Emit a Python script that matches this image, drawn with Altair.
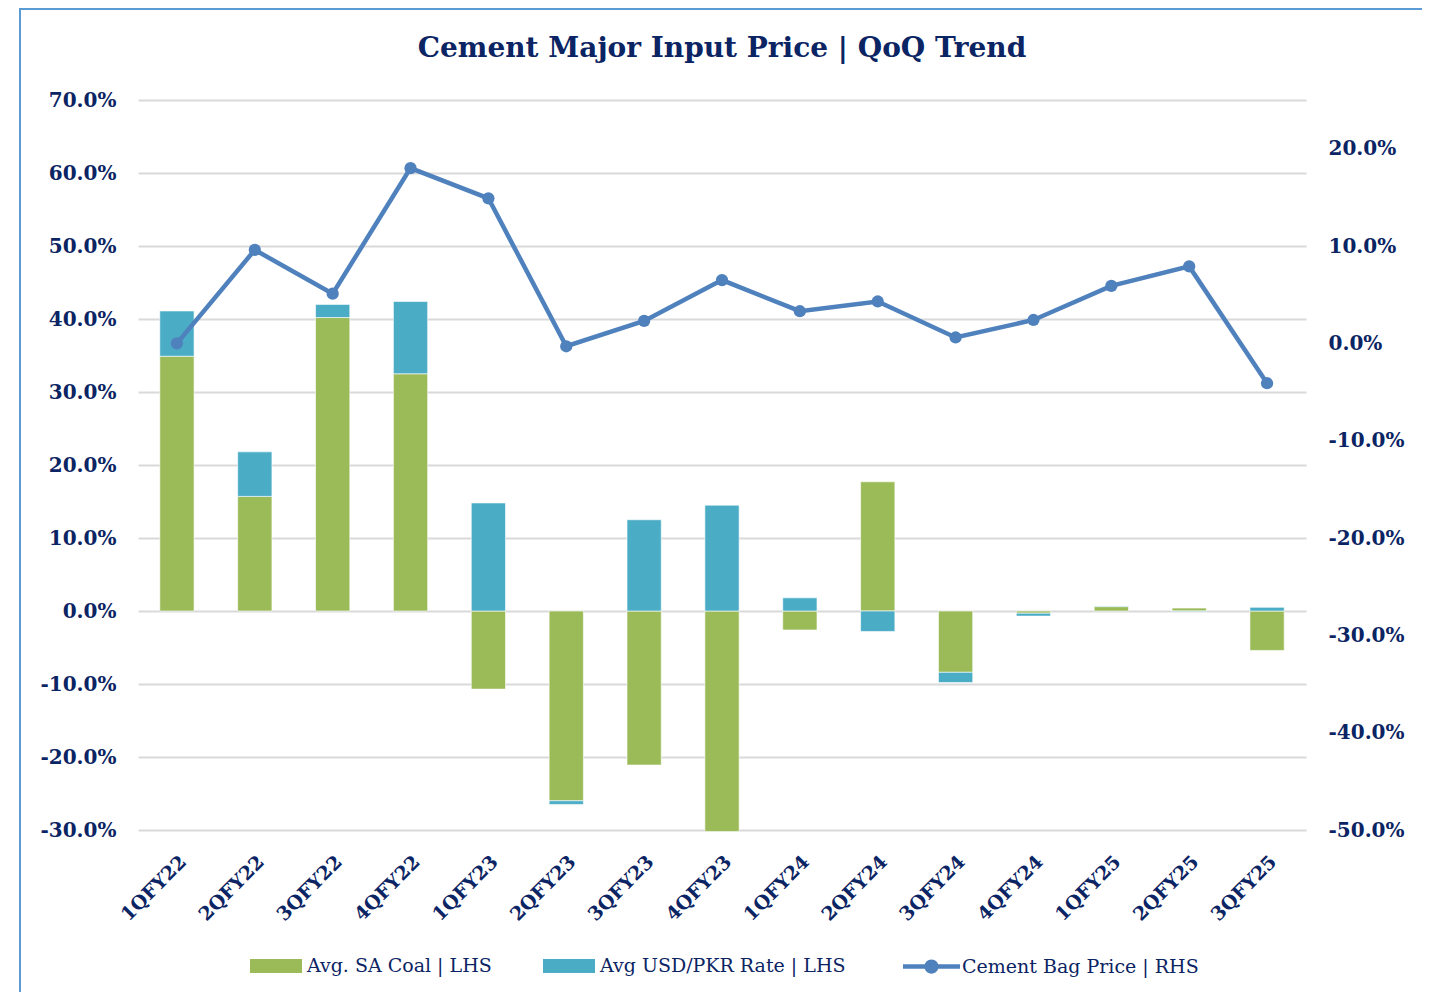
import altair as alt
import pandas as pd

quarters = ["1QFY22", "2QFY22", "3QFY22", "4QFY22", "1QFY23", "2QFY23", "3QFY23", "4QFY23",
            "1QFY24", "2QFY24", "3QFY24", "4QFY24", "1QFY25", "2QFY25", "3QFY25"]
coal = [34.9, 15.7, 40.2, 32.5, -10.7, -26.0, -21.1, -30.2, -2.6, 17.7, -8.4, -0.3, 0.6, 0.4, -5.4]
usd = [6.2, 6.1, 1.8, 9.9, 14.8, -0.5, 12.5, 14.5, 1.8, -2.8, -1.4, -0.4, 0.1, -0.1, 0.5]
cement = [0.0, 9.6, 5.1, 18.0, 14.9, -0.3, 2.3, 6.5, 3.3, 4.3, 0.6, 2.4, 5.9, 7.9, -4.1]

bar_series = ["Avg. SA Coal | LHS", "Avg USD/PKR Rate | LHS"]
line_series = "Cement Bag Price | RHS"
left_ticks = [-30, -20, -10, 0, 10, 20, 30, 40, 50, 60, 70]
right_ticks = [-50, -40, -30, -20, -10, 0, 10, 20]

rows = []
for i, q in enumerate(quarters):
    rows.append({"quarter": q, "series": bar_series[0], "value": coal[i], "ord": 0})
    rows.append({"quarter": q, "series": bar_series[1], "value": usd[i], "ord": 1})
bars_df = pd.DataFrame(rows)
line_df = pd.DataFrame({"quarter": quarters, "value": cement, "series": [line_series] * len(quarters)})

NAVY = "#0b2463"
FONT = "DejaVu Serif"
GRID = "#d9d9d9"
PCT = "(datum.value < 0 ? '-' : '') + format(abs(datum.value), '.1f') + '%'"

xenc = alt.X("quarter:N", sort=quarters,
             scale=alt.Scale(paddingInner=0.56, paddingOuter=0.28),
             axis=alt.Axis(title=None, labelAngle=-45, labelFont=FONT, labelFontWeight="bold",
                           labelFontSize=19, labelColor=NAVY, ticks=False, domain=False,
                           labelPadding=22, grid=False))

yleft = alt.Y("value:Q", stack="zero",
              scale=alt.Scale(domain=[-30, 70], nice=False, zero=False),
              axis=alt.Axis(title=None, orient="left", values=left_ticks, labelExpr=PCT,
                            labelFont=FONT, labelFontWeight="bold", labelFontSize=20,
                            labelColor=NAVY, ticks=False, domain=False, labelPadding=22,
                            grid=True, gridColor=GRID, gridWidth=2))

right_axis = alt.Axis(title=None, orient="right", values=right_ticks, labelExpr=PCT,
                      labelFont=FONT, labelFontWeight="bold", labelFontSize=20,
                      labelColor=NAVY, ticks=False, domain=False, labelPadding=22, grid=False)
yright_scale = alt.Scale(domain=[-50, 25], nice=False, zero=False)

frame = alt.Chart(pd.DataFrame({"k": [0]})).mark_rect(
    fill="transparent", stroke="#5b9bd5", strokeWidth=2
).encode(x=alt.value(-118), x2=alt.value(1286), y=alt.value(-91), y2=alt.value(905))

bars = alt.Chart(bars_df).mark_bar(stroke="#ffffff", strokeWidth=1, strokeOpacity=0.6).encode(
    x=xenc,
    y=yleft,
    color=alt.Color("series:N",
                    scale=alt.Scale(domain=bar_series, range=["#9bbb59", "#4bacc6"]),
                    legend=alt.Legend(title=None, orient="none", legendX=112, legendY=840,
                                      direction="horizontal",
                                      symbolType="M-1,-0.27H1V0.27H-1Z", symbolSize=2704,
                                      symbolStrokeWidth=0, symbolOpacity=1,
                                      labelFont=FONT, labelFontSize=19, labelColor=NAVY,
                                      labelOffset=5, columnPadding=51, padding=0,
                                      labelLimit=400)),
    order=alt.Order("ord:Q"),
)

line = alt.Chart(line_df).mark_line(color="#4f81bd", strokeWidth=4.5).encode(
    x=xenc,
    y=alt.Y("value:Q", scale=yright_scale, axis=right_axis),
)

circle_path = ("M-1,-0.075H1V0.075H-1Z "
               "M0.25,0A0.25,0.25,0,1,1,-0.25,0A0.25,0.25,0,1,1,0.25,0Z")
points = alt.Chart(line_df).mark_point(filled=True, size=150, opacity=1).encode(
    x=xenc,
    y=alt.Y("value:Q", scale=yright_scale, axis=right_axis),
    fill=alt.Fill("series:N",
                  scale=alt.Scale(domain=[line_series], range=["#4f81bd"]),
                  legend=alt.Legend(title=None, orient="none", legendX=765, legendY=838,
                                    symbolType=circle_path, symbolSize=3249,
                                    symbolStrokeWidth=0, symbolOpacity=1,
                                    labelFont=FONT, labelFontSize=19, labelColor=NAVY,
                                    labelOffset=2, padding=0, labelLimit=400)),
)

chart = alt.layer(frame, bars, alt.layer(line, points)).resolve_scale(
    y="independent"
).properties(
    width=1168, height=730,
    background="white",
    autosize=alt.AutoSizeParams(type="none"),
    padding={"left": 130, "top": 92, "right": 116, "bottom": 162},
    title=alt.TitleParams("Cement Major Input Price | QoQ Trend", font=FONT, fontSize=28,
                          fontWeight="bold", color=NAVY, anchor="middle", frame="group",
                          offset=0, dy=55),
).configure_view(stroke=None)

chart.save("out.html", embed_options={"renderer": "svg", "actions": False})
